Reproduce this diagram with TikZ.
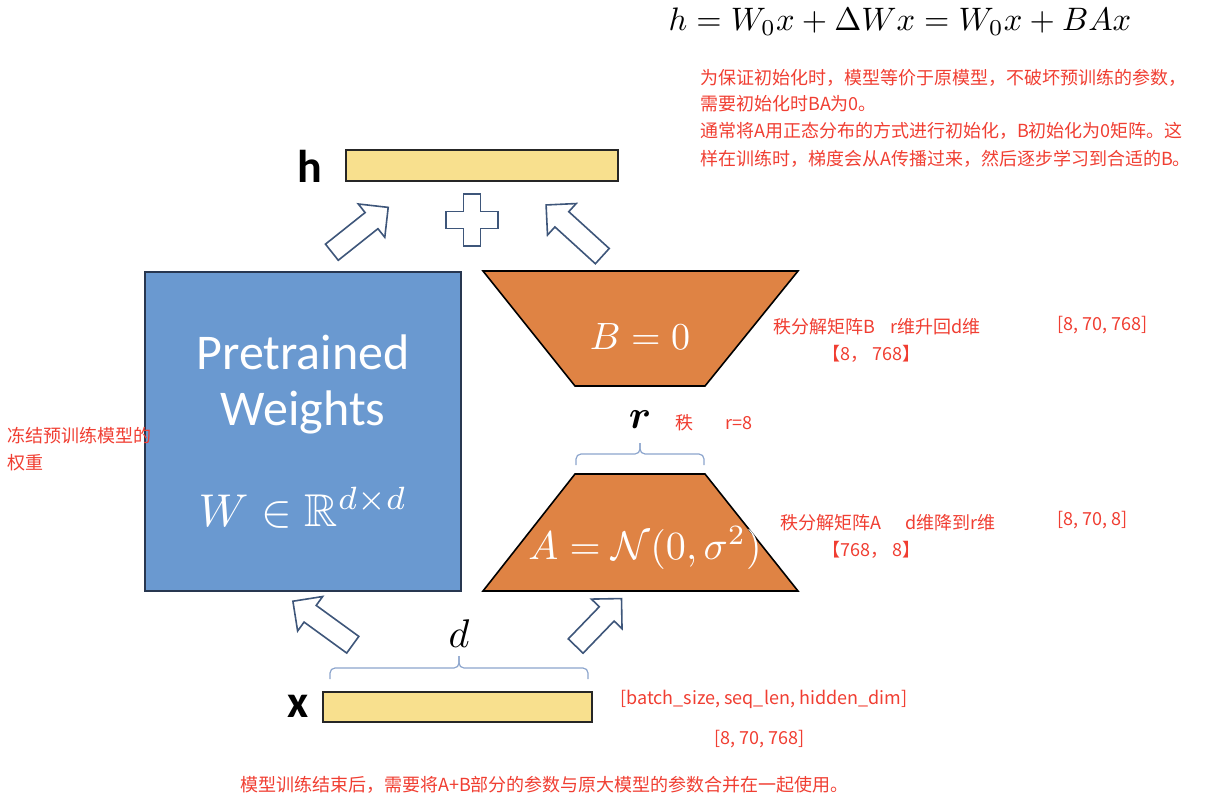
\documentclass[tikz,border=0pt]{standalone}
\usepackage{amsmath}
\usepackage{amssymb}
\usepackage{fontspec}
\newfontfamily\cjk{Noto Sans CJK SC}
\newfontfamily\calib{Carlito}
\usetikzlibrary{calc, positioning, shapes.arrows}
\definecolor{wblue}{RGB}{106,153,208}
\definecolor{wedge}{RGB}{40,55,80}
\definecolor{lorange}{RGB}{223,131,68}
\definecolor{vecyellow}{RGB}{248,224,142}
\definecolor{arrowline}{RGB}{62,86,122}
\definecolor{bracecol}{RGB}{140,165,205}
\definecolor{notered}{RGB}{240,62,50}

\begin{document}
\begin{tikzpicture}[x=1pt, y=-1pt,
  note/.style={text=notered, font=\cjk\fontsize{18}{21}\selectfont, anchor=west, inner sep=0pt},
  vec/.style={draw=black!85, line width=1.5pt, fill=vecyellow, inner sep=0pt},
  fatarrow/.style={shape=single arrow, draw=arrowline, line width=1.6pt, fill=white,
    inner sep=9.5pt, single arrow head extend=11pt, minimum height=72pt},
  wbrace/.style={draw=bracecol, line width=1.2pt, rounded corners=5pt},
  trap/.style={draw=black, line width=1.6pt, fill=lorange}]
  \useasboundingbox (0,0) rectangle (1206,805);

  % formula
  \node (eq) at (900,22) {\scalebox{3.25}{$h = W_0x + \Delta Wx = W_0x + BAx$}};
  \node [note] (n1) at (700,78) {为保证初始化时，模型等价于原模型，不破坏预训练的参数，};
  \node [note] (n2) at (700,104) {需要初始化时BA为0。};
  \node [note] (n3) at (700,131) {通常将A用正态分布的方式进行初始化，B初始化为0矩阵。这};
  \node [note] (n4) at (700,159) {样在训练时，梯度会从A传播过来，然后逐步学习到合适的B。};

  % output h
  \node [vec, minimum width=272pt, minimum height=31pt] (hvec) at (482,165.5) {};
  \node [font=\calib\bfseries\fontsize{46}{46}\selectfont] (hlab) at (310,166) {h};
  \node [fatarrow, rotate=38.5] (upl) at (356,233) {};
  \node [fatarrow, rotate=137.7, minimum height=76pt] (upr) at (578,234) {};
  \draw [draw=arrowline, line width=1.6pt, fill=white] (463.5,194) -- (480.5,194) -- (480.5,211.5)
    -- (498,211.5) -- (498,228.5) -- (480.5,228.5) -- (480.5,246) -- (463.5,246) -- (463.5,228.5)
    -- (446,228.5) -- (446,211.5) -- (463.5,211.5) -- cycle;

  % frozen weights
  \node [draw=wedge, line width=1.6pt, fill=wblue, minimum width=316pt, minimum height=319pt] (wbox) at (303,431.5) {};
  \node [text=white, font=\calib\fontsize{50}{50}\selectfont] (pt) at (303,352) {Pretrained};
  \node [text=white, font=\calib\fontsize{50}{50}\selectfont] (wt) at (303,412) {Weights};
  \node [text=white] (wdim) at (303,508) {\scalebox{4.6}{$W \in \mathbb{R}^{d\times d}$}};
  \node [note] (frz1) at (7,436) {冻结预训练模型的};
  \node [note] (frz2) at (7,463) {权重};

  % B and A
  \draw [trap] (483,271) -- (798,271) -- (705,386) -- (575,386) -- cycle;
  \node [text=white] (bz) at (640,337) {\scalebox{3.8}{$B = 0$}};
  \draw [trap] (575,474) -- (705,474) -- (798,591) -- (483,591) -- cycle;
  \node [text=white] (an) at (645,548) {\scalebox{4}{$A = \mathcal{N}(0,\sigma^2)$}};
  \coordinate (rl) at (576,465);
  \coordinate (rr) at (704,465);
  \coordinate (rtip) at ($(rl)!0.5!(rr)+(0,-22)$);
  \draw [wbrace] (rl) |- ($(rl)!0.5!(rr)+(0,-11)$) -- (rtip);
  \draw [wbrace] (rr) |- ($(rl)!0.5!(rr)+(0,-11)$) -- (rtip);
  \node (rlab) at (640,420) {\scalebox{4}{$\boldsymbol{r}$}};
  \node [note] (rank) at (675,423) {秩};
  \node [note] (r8) at (725,423) {r=8};
  \node [note] (bnote) at (773,327) {秩分解矩阵B\hspace{15pt}r维升回d维};
  \node [note] (bshape) at (822,354) {【8， 768】};
  \node [note] (bout) at (1057,325) {[8, 70, 768]};
  \node [note] (anote) at (780,523) {秩分解矩阵A\hspace{24pt}d维降到r维};
  \node [note] (ashape) at (822,550) {【768， 8】};
  \node [note] (aout) at (1057,520) {[8, 70, 8]};

  % input x
  \node [fatarrow, rotate=144, minimum height=74pt] (inl) at (327,626) {};
  \node [fatarrow, rotate=46, minimum height=66pt] (inr) at (595,626) {};
  \coordinate (dl) at (330,679);
  \coordinate (dr) at (588,679);
  \coordinate (dtip) at ($(dl)!0.5!(dr)+(0,-23)$);
  \draw [wbrace] (dl) |- ($(dl)!0.5!(dr)+(0,-11)$) -- (dtip);
  \draw [wbrace] (dr) |- ($(dl)!0.5!(dr)+(0,-11)$) -- (dtip);
  \node (dlab) at (459,634) {\scalebox{4}{$d$}};
  \node [vec, minimum width=269pt, minimum height=30pt] (xvec) at (457.5,707) {};
  \node [font=\calib\bfseries\fontsize{46}{46}\selectfont] (xlab) at (298,706) {x};
  \node [note] (xshape) at (620,699) {[batch\_size, seq\_len, hidden\_dim]};
  \node [note] (xout) at (714,739) {[8, 70, 768]};
  \node [note] (merge) at (240,785) {模型训练结束后，需要将A+B部分的参数与原大模型的参数合并在一起使用。};
\end{tikzpicture}
\end{document}
